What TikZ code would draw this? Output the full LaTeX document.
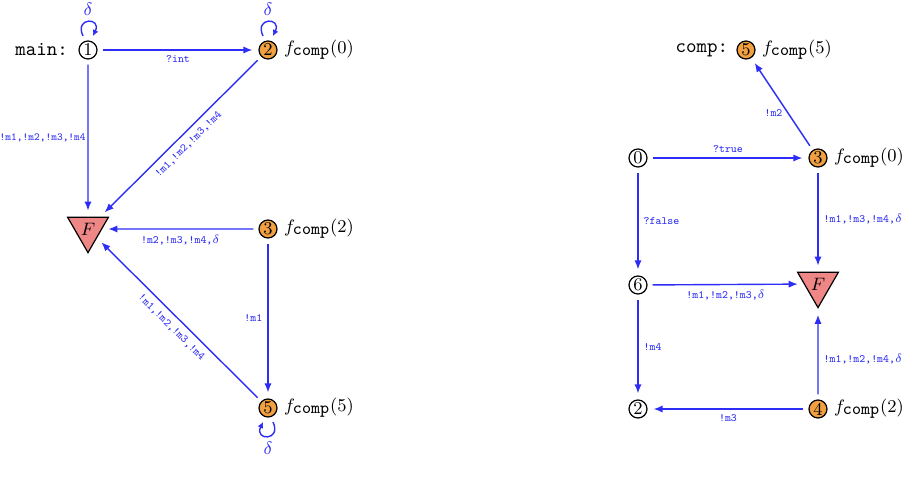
\documentclass[tikz,border=0pt]{standalone}
\usetikzlibrary{arrows.meta,shapes.geometric}
\definecolor{edgeblue}{RGB}{45,45,245}
\definecolor{stor}{RGB}{240,160,64}
\definecolor{fred}{RGB}{240,135,135}
\begin{document}
\begin{tikzpicture}[x=0.5pt,y=-0.5pt,
 st/.style={circle,draw,line width=0.6pt,minimum size=9pt,inner sep=0pt,font=\fontsize{9}{9}\selectfont},
 ost/.style={st,fill=stor},
 fin/.style={regular polygon,regular polygon sides=3,shape border rotate=180,draw,fill=fred,minimum size=23.6pt,inner sep=0pt,line width=0.6pt,font=\fontsize{9}{9}\selectfont},
 tr/.style={draw=edgeblue,line width=0.7pt,-{Latex[length=4.5pt,width=3.6pt]},shorten >=3pt,shorten <=2.5pt},
 loopst/.style={draw=edgeblue,line width=0.7pt,-{Latex[length=3pt,width=3pt]}},
 lab/.style={text=edgeblue,font=\fontsize{5.6}{6}\selectfont\ttfamily,inner sep=2.5pt},
 dlab/.style={text=edgeblue,font=\fontsize{9}{9}\selectfont,inner sep=0pt},
 fl/.style={anchor=west,font=\fontsize{8.6}{9}\selectfont,inner sep=1pt},
 hl/.style={anchor=east,font=\fontsize{10}{10}\selectfont\ttfamily,inner sep=1pt}]
\useasboundingbox (0,0) rectangle (906,477);
% ---------- left: main ----------
\node[st]  (n1) at (88,50) {1};
\node[ost] (n2) at (268,50) {2};
\node[fin] (F1) at (88,229) {$F$};
\node[ost] (n3) at (268,229) {3};
\node[ost] (n5) at (268,408) {5};
\node[hl] (mainlab) at ([xshift=-4pt]n1.west) {main:};
\node[fl] (l2) at ([xshift=2pt]n2.east) {$f_{\texttt{comp}}(0)$};
\node[fl] (l3) at ([xshift=2pt]n3.east) {$f_{\texttt{comp}}(2)$};
\node[fl] (l5) at ([xshift=2pt]n5.east) {$f_{\texttt{comp}}(5)$};
\draw[tr] (n1) -- node[lab,below] (e1) {?int} (n2);
\draw[tr] (n1) -- node[lab,left,inner sep=0.8pt,font=\fontsize{5.4}{6}\selectfont\ttfamily] (e2) {!m1,!m2,!m3,!m4} (F1);
\draw[tr] (n2) -- node[lab,sloped,below,inner sep=3pt] (e3) {!m1,!m2,!m3,!m4} (F1);
\draw[tr] (n3) -- node[lab,below] (e4) {!m2,!m3,!m4,$\delta$} (F1);
\draw[tr] (n3) -- node[lab,left] (e5) {!m1} (n5);
\draw[tr] (n5) -- node[lab,sloped,below,inner sep=3pt] (e6) {!m1,!m2,!m3,!m4} (F1);
% loops
\draw[loopst] ([shift={(-2.5pt,7pt)}]n1.center) .. controls +(-4.5pt,9.5pt) and +(4.5pt,9.5pt) .. ([shift={(2.5pt,7pt)}]n1.center);
\node[dlab] (d1) at ([yshift=20.5pt]n1.center) {$\delta$};
\draw[loopst] ([shift={(-2.5pt,7pt)}]n2.center) .. controls +(-4.5pt,9.5pt) and +(4.5pt,9.5pt) .. ([shift={(2.5pt,7pt)}]n2.center);
\node[dlab] (d2) at ([yshift=20.5pt]n2.center) {$\delta$};
\draw[loopst] ([shift={(2.5pt,-7pt)}]n5.center) .. controls +(4.5pt,-9.5pt) and +(-4.5pt,-9.5pt) .. ([shift={(-2.5pt,-7pt)}]n5.center);
\node[dlab] (d5) at ([yshift=-20pt]n5.center) {$\delta$};
% ---------- right: comp ----------
\node[ost] (c5) at (746,50) {5};
\node[st]  (c0) at (638,158) {0};
\node[ost] (c3) at (818,158) {3};
\node[st]  (c6) at (638,285) {6};
\node[fin] (F2) at (818,284) {$F$};
\node[st]  (c2) at (638,409) {2};
\node[ost] (c4) at (818,409) {4};
\node[hl] (complab) at ([xshift=-3pt]c5.west) {comp:};
\node[fl] (k5) at ([xshift=2pt]c5.east) {$f_{\texttt{comp}}(5)$};
\node[fl] (k3) at ([xshift=2pt]c3.east) {$f_{\texttt{comp}}(0)$};
\node[fl] (k4) at ([xshift=2pt]c4.east) {$f_{\texttt{comp}}(2)$};
\draw[tr] (c0) -- node[lab,above] (g1) {?true} (c3);
\draw[tr] (c3) -- node[lab,left,pos=0.4] (g2) {!m2} (c5);
\draw[tr] (c0) -- node[lab,right] (g3) {?false} (c6);
\draw[tr] (c3) -- node[lab,right] (g4) {!m1,!m3,!m4,$\delta$} (F2);
\draw[tr] (c6) -- node[lab,below] (g5) {!m1,!m2,!m3,$\delta$} (F2);
\draw[tr] (c6) -- node[lab,right] (g6) {!m4} (c2);
\draw[tr] (c4) -- node[lab,right,pos=0.45] (g7) {!m1,!m2,!m4,$\delta$} (F2);
\draw[tr] (c4) -- node[lab,below] (g8) {!m3} (c2);
\end{tikzpicture}
\end{document}
